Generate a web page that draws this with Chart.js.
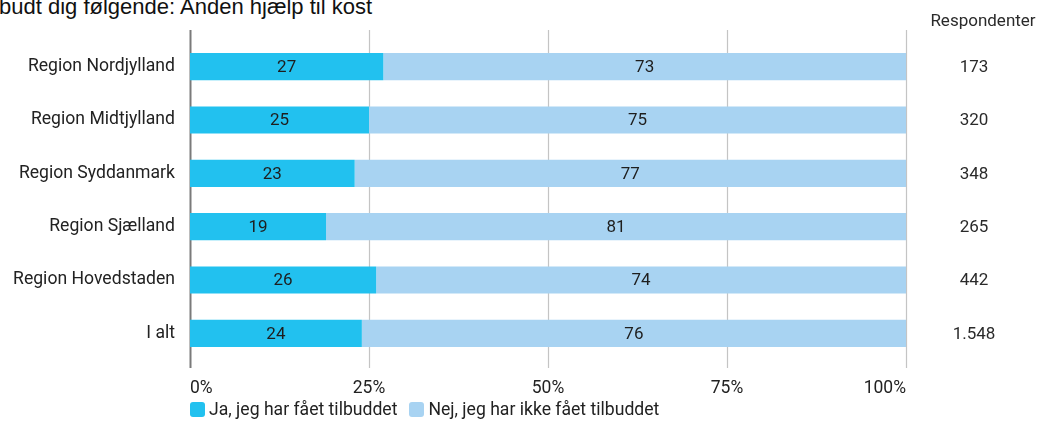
<!DOCTYPE html>
<html>
<head>
<meta charset="utf-8">
<script src="https://cdn.jsdelivr.net/npm/chart.js@4"></script>
<style>
  body{margin:0;background:#fff;width:1052px;height:432px;overflow:hidden;position:relative;font-family:Roboto,sans-serif;}
  #title{position:absolute;left:-1px;top:-4px;font:22px "Liberation Sans",sans-serif;line-height:22px;color:#111;white-space:nowrap;}
  #wrap{position:absolute;left:0;top:0;width:1052px;height:432px;}
  #legend{position:absolute;left:190px;top:399px;font-size:17.6px;color:#222;display:flex;gap:12px;}
  #legend span{display:inline-flex;align-items:center;}
  #legend i{display:inline-block;width:15px;height:15px;border-radius:3px;margin-right:4px;}
</style>
</head>
<body>
<div id="title">budt dig følgende: Anden hjælp til kost</div>
<div id="wrap"><canvas id="chart"></canvas></div>
<div id="legend"></div>
<script>
let regions = ["Region Nordjylland","Region Midtjylland","Region Syddanmark","Region Sjælland","Region Hovedstaden","I alt"];
let ja = [27,25,23,19,26,24];
let nej = [73,75,77,81,74,76];
let respondenter = ["173","320","348","265","442","1.548"];
let seriesNames = ["Ja, jeg har fået tilbuddet","Nej, jeg har ikke fået tilbuddet"];
let colors = ["#22c1ef","#a8d3f2"];

// grid lines a bit longer than the plot area, drawn behind the bars
const gridPlugin = {
  id:"grid",
  beforeDatasetsDraw(c){
    let ctx = c.ctx, a = c.chartArea, x = c.scales.x;
    ctx.save();
    [0,25,50,75,100].forEach(v=>{
      let px = Math.round(x.getPixelForValue(v))+0.5;
      ctx.strokeStyle = v==0 ? "#7a7a7a" : "#c4c4c4";
      ctx.lineWidth = v==0 ? 2 : 1.2;
      ctx.beginPath();
      ctx.moveTo(px, a.top-10);
      ctx.lineTo(px, a.bottom+8);
      ctx.stroke();
    });
    ctx.restore();
  }
};

const labelPlugin = {
  id:"labels",
  afterDatasetsDraw(c){
    let ctx = c.ctx;
    ctx.save();
    ctx.font = "17px Roboto";
    ctx.fillStyle = "#1e1e1e";
    ctx.textAlign = "center";
    ctx.textBaseline = "middle";
    c.data.datasets.forEach((ds,i)=>{
      c.getDatasetMeta(i).data.forEach((bar,j)=>{
        let mid = (bar.x + bar.base)/2;
        ctx.fillText(ds.data[j], mid, bar.y+1);
      });
    });
    // respondenter column
    let y = c.scales.y;
    ctx.fillStyle = "#2a2a2a";
    ctx.fillText("Respondenter", 983, 22);
    respondenter.forEach((r,j)=>{
      ctx.fillText(r, 974, y.getPixelForValue(j)+1);
    });
    ctx.restore();
  }
};

chart = new Chart(document.getElementById("chart"), {
  type:"bar",
  data:{
    labels:regions,
    datasets:[
      {label:seriesNames[0], data:ja, backgroundColor:colors[0]},
      {label:seriesNames[1], data:nej, backgroundColor:colors[1]}
    ]
  },
  options:{
    indexAxis:"y",
    responsive:true,
    maintainAspectRatio:false,
    animation:false,
    categoryPercentage:1,
    barPercentage:0.51,
    layout:{padding:{top:40,right:146,left:0,bottom:0}},
    plugins:{legend:{display:false},tooltip:{enabled:false}},
    scales:{
      x:{
        stacked:true, min:0, max:100,
        grid:{display:false},
        border:{display:false},
        ticks:{stepSize:25, align:"inner", padding:10, color:"#222", font:{family:"Roboto",size:17.5},
          callback:v=>v+"%"},
        afterFit:s=>{ s.height = 72; }
      },
      y:{
        stacked:true,
        grid:{display:false},
        border:{display:false},
        ticks:{padding:7, color:"#222", font:{family:"Roboto",size:17.6}},
        afterFit:s=>{ s.width = 190; }
      }
    }
  },
  plugins:[gridPlugin,labelPlugin]
});

let lg = document.getElementById("legend");
seriesNames.forEach((n,i)=>{
  lg.innerHTML += `<span><i style="background:${colors[i]}"></i>${n}</span>`;
});
</script>
</body>
</html>
